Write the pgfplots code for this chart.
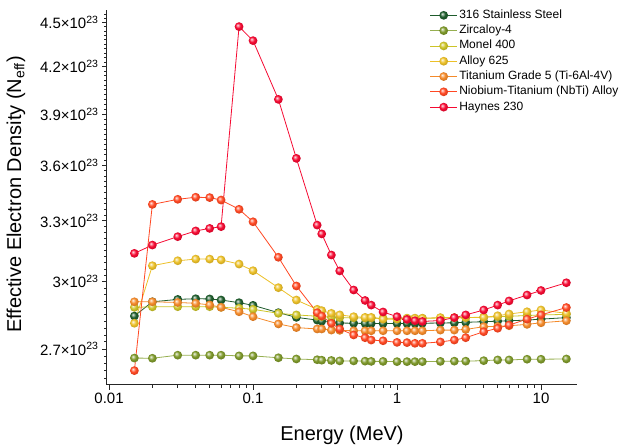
\documentclass[border=0pt]{standalone}
\usepackage{fontspec}
\setmainfont{Liberation Sans}
\usepackage{pgfplots}
\usepackage{pgfplotstable}
\pgfplotsset{compat=1.18}

\definecolor{cSS}{RGB}{30,92,44}
\definecolor{cZr}{RGB}{125,152,42}
\definecolor{cZrL}{RGB}{150,175,80}
\definecolor{cMo}{RGB}{205,196,40}
\definecolor{cAl}{RGB}{236,192,40}
\definecolor{cTi}{RGB}{244,138,42}
\definecolor{cNb}{RGB}{255,72,35}
\definecolor{cHa}{RGB}{245,10,50}

\newcommand{\defball}[2]{%
  \pgfdeclareradialshading{sball#1}{\pgfqpoint{-9bp}{9bp}}{%
    color(0bp)=(#2!10!white); color(7bp)=(#2!55!white); color(15bp)=(#2);
    color(24bp)=(#2!88!black); color(50bp)=(#2!60!black)}%
  \pgfdeclareplotmark{sball#1}{%
    \pgfpathcircle{\pgfpointorigin}{\pgfplotmarksize}%
    \pgfshadepath{sball#1}{0}\pgfusepath{discard}}}
\defball{SS}{cSS}
\defball{Zr}{cZr}
\defball{Mo}{cMo}
\defball{Al}{cAl}
\defball{Ti}{cTi}
\defball{Nb}{cNb}
\defball{Ha}{cHa}

\pgfplotstableread{
E      SS     Zr     Mo     Al     Ti     Nb     Ha
0.015  2.843  2.662  2.882  2.811  2.907  2.610  3.136
0.02   2.907  2.661  2.884  3.076  2.907  3.386  3.177
0.03   2.918  2.674  2.885  3.100  2.904  3.413  3.219
0.04   2.921  2.674  2.885  3.108  2.900  3.424  3.248
0.05   2.920  2.674  2.885  3.108  2.893  3.422  3.261
0.06   2.915  2.674  2.882  3.104  2.882  3.409  3.270
0.08   2.903  2.671  2.878  3.084  2.862  3.360  4.472
0.1    2.891  2.671  2.873  3.052  2.840  3.295  4.375
0.15   2.858  2.663  2.855  2.972  2.808  3.117  3.991
0.2    2.837  2.658  2.848  2.915  2.792  2.980  3.639
0.279  2.825  2.655  2.842  2.873  2.786  2.858  3.278
0.3    2.820  2.653  2.840  2.867  2.786  2.843  3.233
0.35   2.815  2.652  2.838  2.855  2.781  2.811  3.128
0.4    2.812  2.650  2.836  2.848  2.780  2.786  3.051
0.5    2.811  2.650  2.835  2.840  2.778  2.760  2.961
0.6    2.810  2.649  2.834  2.837  2.778  2.748  2.913
0.662  2.810  2.648  2.834  2.837  2.778  2.738  2.892
0.8    2.810  2.648  2.833  2.829  2.778  2.735  2.861
1      2.810  2.647  2.833  2.829  2.778  2.728  2.840
1.173  2.810  2.647  2.833  2.833  2.778  2.727  2.828
1.332  2.810  2.647  2.833  2.833  2.778  2.724  2.822
1.5    2.811  2.647  2.833  2.833  2.778  2.724  2.819
2      2.812  2.648  2.834  2.836  2.781  2.730  2.823
2.5    2.813  2.649  2.835  2.836  2.781  2.738  2.836
3      2.815  2.649  2.836  2.836  2.784  2.748  2.848
4      2.818  2.651  2.838  2.837  2.796  2.774  2.870
5      2.820  2.654  2.840  2.844  2.797  2.789  2.892
6      2.822  2.654  2.842  2.852  2.800  2.803  2.911
8      2.825  2.657  2.845  2.862  2.806  2.829  2.938
10     2.829  2.657  2.848  2.870  2.813  2.848  2.959
15     2.836  2.658  2.850  2.855  2.822  2.881  2.995
}\datatable

\begin{document}
\begin{tikzpicture}[x=1pt,y=1pt]
\useasboundingbox (0,0) rectangle (627,445);
\begin{axis}[
  at={(107pt,60pt)}, anchor=south west,
  width=470pt, height=375pt, scale only axis,
  xmode=log, ymode=log,
  xmin=0.00968, xmax=17.78,
  ymin=2.552, ymax=4.59,
  axis lines*=left,
  axis line style={black!85, line width=1pt},
  tick align=outside,
  tick style={black!85, line width=0.9pt},
  major tick length=5pt, minor tick length=3pt,
  xtick={0.01,0.1,1,10},
  xticklabels={0.01,0.1,1,10},
  minor xtick={0.02,0.03,0.04,0.05,0.06,0.07,0.08,0.09,0.2,0.3,0.4,0.5,0.6,0.7,0.8,0.9,2,3,4,5,6,7,8,9},
  ytick={2.7,3,3.3,3.6,3.9,4.2,4.5},
  yticklabels={2.7×10\textsuperscript{23},3×10\textsuperscript{23},3.3×10\textsuperscript{23},3.6×10\textsuperscript{23},3.9×10\textsuperscript{23},4.2×10\textsuperscript{23},4.5×10\textsuperscript{23}},
  minor ytick={2.58,2.61,2.64,2.67,2.73,2.76,2.79,2.82,2.85,2.88,2.91,2.94,2.97,3.03,3.06,3.09,3.12,3.15,3.18,3.21,3.24,3.27,3.33,3.36,3.39,3.42,3.45,3.48,3.51,3.54,3.57,3.63,3.66,3.69,3.72,3.75,3.78,3.81,3.84,3.87,3.93,3.96,3.99,4.02,4.05,4.08,4.11,4.14,4.17,4.23,4.26,4.29,4.32,4.35,4.38,4.41,4.44,4.47,4.53,4.56},
  tick label style={font=\fontsize{15}{17}\selectfont, black},
  xlabel={Energy (MeV)},
  ylabel={Effective Electron Density (N\textsubscript{eff})},
  label style={font=\fontsize{20}{24}\selectfont},
  xlabel style={at={(axis description cs:0.5,0)}, anchor=base, yshift=-55.7pt},
  ylabel style={at={(axis description cs:-0.1936,0.508)}, anchor=center},
  legend style={at={(axis description cs:0.68,1.012)}, anchor=north west, draw=none, fill=none,
    font=\fontsize{12}{14}\selectfont, nodes={text height=9pt, text depth=3pt, inner sep=1.65pt}},
  legend cell align=left,
  legend image code/.code={\draw[mark repeat=2,mark phase=2] plot coordinates {(0pt,0pt) (13.5pt,0pt) (27pt,0pt)};},
  every axis plot/.append style={line width=0.8pt, mark size=4.4pt},
]
\addplot[color=cSS, mark=sballSS] table[x=E, y=SS] {\datatable};
\addlegendentry{316 Stainless Steel}
\addplot[color=cZrL, mark=sballZr] table[x=E, y=Zr] {\datatable};
\addlegendentry{Zircaloy-4}
\addplot[color=cMo, mark=sballMo] table[x=E, y=Mo] {\datatable};
\addlegendentry{Monel 400}
\addplot[color=cAl, mark=sballAl] table[x=E, y=Al] {\datatable};
\addlegendentry{Alloy 625}
\addplot[color=cTi, mark=sballTi] table[x=E, y=Ti] {\datatable};
\addlegendentry{Titanium Grade 5 (Ti-6Al-4V)}
\addplot[color=cNb, mark=sballNb] table[x=E, y=Nb] {\datatable};
\addlegendentry{Niobium-Titanium (NbTi) Alloy}
\addplot[color=cHa, mark=sballHa] table[x=E, y=Ha] {\datatable};
\addlegendentry{Haynes 230}
\end{axis}
\end{tikzpicture}
\end{document}
